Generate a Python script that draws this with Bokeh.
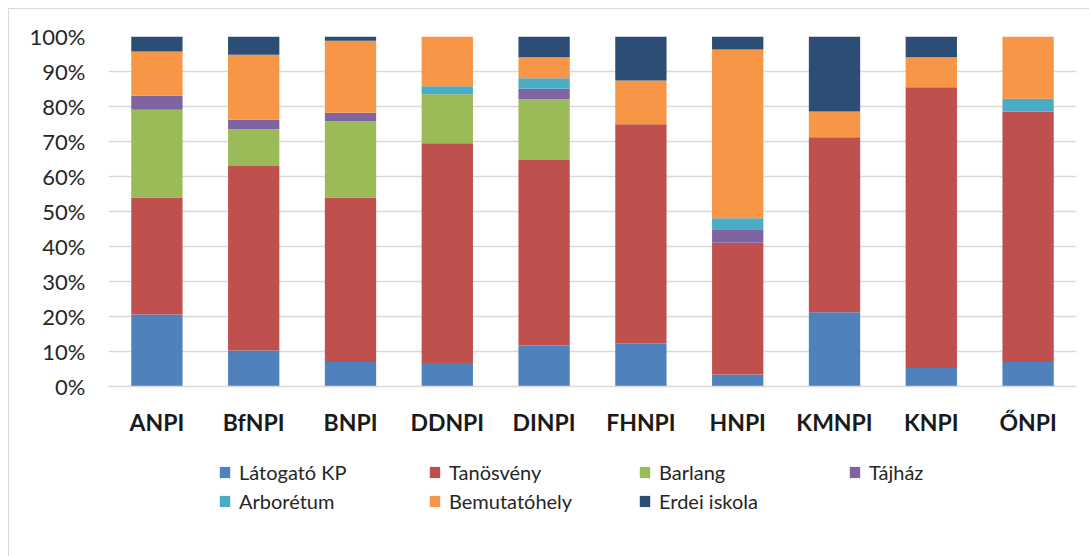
from bokeh.plotting import figure
from bokeh.layouts import column
from bokeh.models import (FactorRange, Range1d, FixedTicker, PrintfTickFormatter,
                          Legend, LegendItem)
from bokeh.embed import file_html
from bokeh.resources import INLINE

parks = ["ANPI", "BfNPI", "BNPI", "DDNPI", "DINPI", "FHNPI", "HNPI", "KMNPI", "KNPI", "ŐNPI"]
series = ["Látogató KP", "Tanösvény", "Barlang", "Tájház", "Arborétum", "Bemutatóhely", "Erdei iskola"]
colors = ["#4F81BD", "#C0504D", "#9BBB59", "#8064A2", "#4BACC6", "#F79646", "#2C4D75"]

latogato_kp = [20.6, 10.3, 7.0, 6.7, 11.7, 12.3, 3.4, 21.2, 5.3, 7.0]
tanosveny = [33.4, 52.7, 47.0, 62.8, 53.0, 62.6, 37.7, 50.0, 80.2, 71.6]
barlang = [25.1, 10.5, 21.8, 14.0, 17.4, 0.0, 0.0, 0.0, 0.0, 0.0]
tajhaz = [4.0, 2.7, 2.4, 0.0, 3.0, 0.0, 3.8, 0.0, 0.0, 0.0]
arboretum = [0.0, 0.0, 0.0, 2.3, 3.0, 0.0, 3.2, 0.0, 0.0, 3.6]
bemutatohely = [12.6, 18.6, 20.6, 14.2, 6.0, 12.5, 48.2, 7.4, 8.6, 17.8]
erdei_iskola = [4.3, 5.2, 1.2, 0.0, 5.9, 12.6, 3.7, 21.4, 5.9, 0.0]

y_ticks = [0, 10, 20, 30, 40, 50, 60, 70, 80, 90, 100]

data = {"park": parks}
for name, vals in zip(series, [latogato_kp, tanosveny, barlang, tajhaz, arboretum, bemutatohely, erdei_iskola]):
    data[name] = vals

FONT = "Lato"
W = 1080
H1 = 440
H2 = 107

p = figure(x_range=FactorRange(*parks, range_padding=0), y_range=Range1d(0, 100),
           width=W, height=H1, output_backend="svg", toolbar_location=None,
           min_border_left=99, min_border_right=13, min_border_top=27, min_border_bottom=H1 - 377)
p.outline_line_color = None
p.background_fill_color = "white"
p.border_fill_color = "white"

renderers = p.vbar_stack(series, x="park", width=0.53, color=colors, source=data, line_width=0)

# axes
p.yaxis.ticker = FixedTicker(ticks=y_ticks)
p.yaxis.formatter = PrintfTickFormatter(format="%d%%")
p.yaxis.axis_line_color = None
p.yaxis.major_tick_line_color = None
p.yaxis.minor_tick_line_color = None
p.yaxis.major_label_standoff = 17
p.yaxis.major_label_text_font = FONT
p.yaxis.major_label_text_font_size = "22px"
p.yaxis.major_label_text_color = "#262626"

p.xaxis.axis_line_color = "#d9d9d9"
p.xaxis.axis_line_width = 1.5
p.xaxis.major_tick_line_color = None
p.xaxis.minor_tick_line_color = None
p.xaxis.major_label_standoff = 15
p.xaxis.major_label_text_font = FONT
p.xaxis.major_label_text_font_style = "bold"
p.xaxis.major_label_text_font_size = "23px"
p.xaxis.major_label_text_color = "#1a1a1a"

p.xgrid.grid_line_color = None
p.ygrid.grid_line_color = "#d9d9d9"
p.ygrid.grid_line_width = 1.5

# legend panel (separate figure below the chart); its bars lie outside its visible range
lg = figure(width=W, height=H2, x_range=FactorRange(*parks, range_padding=0),
            y_range=Range1d(1000, 1001),
            output_backend="svg", toolbar_location=None,
            x_axis_location=None, y_axis_location=None,
            min_border_left=0, min_border_right=0, min_border_top=0, min_border_bottom=0)
lg.outline_line_color = None
lg.grid.visible = False
lg.border_fill_color = "white"
lg.background_fill_color = "white"
swatches = lg.vbar_stack(series, x="park", width=0.53, color=colors, source=data, line_width=0)

items = [LegendItem(label=s, renderers=[r]) for s, r in zip(series, swatches)]
legend = Legend(items=items, location=(110, 43), orientation="horizontal", ncols=4,
                glyph_width=13, glyph_height=14, label_width=184, label_height=20,
                label_standoff=8, spacing=5, padding=0, margin=0,
                border_line_color=None, background_fill_alpha=0,
                label_text_font=FONT, label_text_font_size="20px", label_text_color="#262626")
lg.add_layout(legend, "center")

layout = column(p, lg, spacing=0,
                styles={"margin-left": "8px", "margin-top": "8px",
                        "border-left": "1px solid #d9d9d9", "border-top": "1px solid #d9d9d9"})

open("out.html", "w").write(file_html(layout, INLINE))
